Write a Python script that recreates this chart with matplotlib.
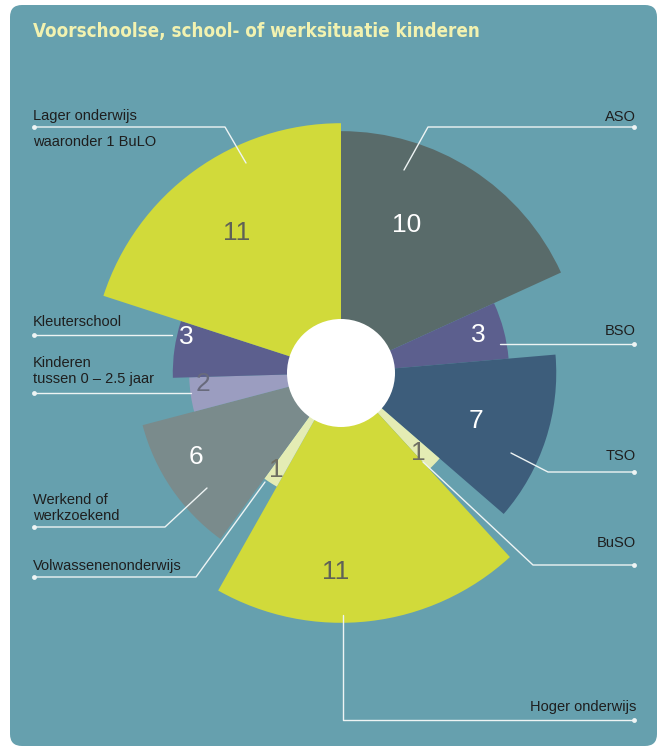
import numpy as np
import matplotlib.pyplot as plt
from matplotlib.patches import FancyBboxPatch, Circle

# data, clockwise from 12 o'clock
categories = ['ASO', 'BSO', 'TSO', 'BuSO', 'Hoger onderwijs', 'Volwassenenonderwijs',
              'Werkend of\nwerkzoekend', 'Kinderen\ntussen 0 – 2.5 jaar', 'Kleuterschool',
              'Lager onderwijs']
values = [10, 3, 7, 1, 11, 1, 6, 2, 3, 11]
title = 'Voorschoolse, school- of werksituatie kinderen'
subnote = 'waaronder 1 BuLO'

colors = ['#596b6a', '#5c5f8e', '#3d5d7b', '#e4ecb4', '#d1da3a', '#e4ecb4',
          '#7a8b8c', '#9b9dc0', '#5c5f8e', '#d1da3a']
num_colors = ['white', 'white', 'white', '#6e6e62', '#5f6157', '#6e6e62',
              'white', '#686a7c', 'white', '#5f6157']

W, H = 659, 747
BG = '#66a0ae'
cx, cy = 341, 373     # centre of the rose in pixels (from top)
R = 300               # radius of the polar axes in pixels

fig = plt.figure(figsize=(W / 100, H / 100), dpi=100, facecolor='white')

# background panel
bg = fig.add_axes([0, 0, 1, 1])
bg.set_xlim(0, W)
bg.set_ylim(H, 0)
bg.axis('off')
bg.add_patch(FancyBboxPatch((10, 5), 647, 741, boxstyle='round,pad=0,rounding_size=12',
                            fc=BG, ec='none'))
bg.text(33, 32, title, color='#f2f2b0', fontsize=13.5, fontweight='bold',
        fontstretch='condensed', family='DejaVu Sans', va='center', ha='left')

# rose
ax = fig.add_axes([(cx - R) / W, (H - cy - R) / H, 2 * R / W, 2 * R / H], projection='polar')
ax.set_theta_zero_location('N')
ax.set_theta_direction(-1)
ax.set_ylim(0, R)
ax.set_axis_off()
ax.patch.set_alpha(0)

vals = np.array(values, dtype=float)
widths = vals / vals.sum() * 2 * np.pi
starts = np.concatenate([[0], np.cumsum(widths)[:-1]])
radius = 79 + 51.5 * np.sqrt(vals)
ax.bar(starts, radius, width=widths, align='edge', color=colors, edgecolor='none')

# overlay: hole, value labels, leader lines, texts
ov = fig.add_axes([0, 0, 1, 1])
ov.set_xlim(0, W)
ov.set_ylim(H, 0)
ov.axis('off')
ov.patch.set_alpha(0)
ov.add_patch(Circle((cx, cy), 54, fc='white', ec='none'))

num_pos = [(407, 225), (478, 335), (476, 421), (418, 453), (336, 572),
           (276, 470), (196, 457), (203, 384), (186, 337), (237, 233)]
for v, (x, y), c in zip(values, num_pos, num_colors):
    ov.text(x, y, str(v), fontsize=19, color=c, ha='center', va='center',
            family='Liberation Sans')

line_kw = dict(color='#eef4f4', lw=1.0, solid_capstyle='round')
# leader lines: list of points (pixels)
leaders = [
    [(634, 127), (428, 127), (404, 170)],                 # ASO
    [(634, 344), (500, 344)],                             # BSO
    [(634, 472), (548, 472), (511, 453)],                 # TSO
    [(634, 565), (533, 565), (423, 462)],                 # BuSO
    [(634, 720), (343, 720), (343, 615)],                 # Hoger
    [(34, 577), (196, 577), (265, 482)],                  # Volwassenen
    [(34, 527), (165, 527), (207, 488)],                  # Werkend
    [(34, 393), (191, 393)],                              # Kinderen
    [(34, 335), (172, 335)],                              # Kleuterschool
    [(34, 127), (225, 127), (246, 163)],                  # Lager
]
for pts in leaders:
    xs, ys = zip(*pts)
    ov.plot(xs, ys, **line_kw)
    ov.plot(xs[0], ys[0], 'o', ms=3.5, color='#eef4f4', mec='none')

lab_kw = dict(fontsize=10.5, color='#1e1e1e', family='Liberation Sans')
label_pos = [(636, 117, 'right'), (636, 331, 'right'), (636, 456, 'right'),
             (636, 543, 'right'), (636, 707, 'right'), (33, 566, 'left'),
             (33, 508, 'left'), (33, 371, 'left'), (33, 322, 'left'), (33, 116, 'left')]
for lab, (x, y, ha) in zip(categories, label_pos):
    ov.text(x, y, lab, ha=ha, va='center', linespacing=1.2, **lab_kw)
ov.text(33, 142, subnote, ha='left', va='center', **lab_kw)

fig.savefig('out.png', dpi=100, facecolor='white')
